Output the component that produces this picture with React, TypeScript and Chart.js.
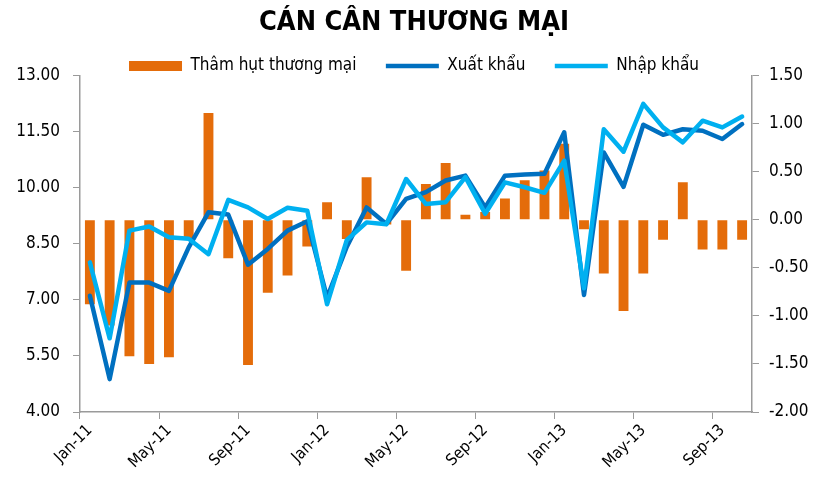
import React, { useEffect, useRef } from 'react';
import { Chart, registerables } from 'chart.js';

Chart.register(...registerables);

const months = [
  'Jan-11', 'Feb-11', 'Mar-11', 'Apr-11', 'May-11', 'Jun-11', 'Jul-11', 'Aug-11', 'Sep-11', 'Oct-11', 'Nov-11', 'Dec-11',
  'Jan-12', 'Feb-12', 'Mar-12', 'Apr-12', 'May-12', 'Jun-12', 'Jul-12', 'Aug-12', 'Sep-12', 'Oct-12', 'Nov-12', 'Dec-12',
  'Jan-13', 'Feb-13', 'Mar-13', 'Apr-13', 'May-13', 'Jun-13', 'Jul-13', 'Aug-13', 'Sep-13', 'Oct-13',
];
const shownMonths = ['Jan-11', 'May-11', 'Sep-11', 'Jan-12', 'May-12', 'Sep-12', 'Jan-13', 'May-13', 'Sep-13'];

// Thâm hụt thương mại (right axis, bn USD)
const deficit = [
  -0.88, -1.10, -1.42, -1.50, -1.43, -0.20, 1.11, -0.40, -1.51, -0.76, -0.58, -0.28,
  0.18, -0.20, 0.44, -0.05, -0.53, 0.37, 0.59, 0.05, 0.08, 0.22, 0.41, 0.51,
  0.79, -0.10, -0.56, -0.95, -0.56, -0.21, 0.39, -0.31, -0.31, -0.21,
];
// Xuất khẩu (left axis)
const exportsVals = [
  7.11, 4.88, 7.46, 7.46, 7.24, 8.40, 9.34, 9.28, 7.94, 8.36, 8.85, 9.10,
  7.06, 8.42, 9.47, 9.03, 9.70, 9.88, 10.19, 10.32, 9.47, 10.32, 10.35, 10.37,
  11.48, 7.13, 10.94, 10.02, 11.68, 11.41, 11.56, 11.52, 11.30, 11.70,
];
// Nhập khẩu (left axis)
const importsVals = [
  8.00, 5.97, 8.85, 8.96, 8.67, 8.63, 8.22, 9.67, 9.47, 9.16, 9.46, 9.38,
  6.88, 8.60, 9.07, 9.02, 10.23, 9.56, 9.61, 10.28, 9.30, 10.14, 10.01, 9.86,
  10.72, 7.31, 11.56, 10.96, 12.24, 11.61, 11.21, 11.79, 11.61, 11.90,
];

const leftMin = 4;
const leftMax = 13;
const leftStep = 1.5;
const rightMin = -2;
const rightMax = 1.5;
const rightStep = 0.5;

const FONT = "'DejaVu Sans Condensed', 'DejaVu Sans', sans-serif";
const AXIS = '#9a9a9a';
const ORANGE = '#E46C0A';
const DARK = '#0070C0';
const LIGHT = '#00B0F0';

const legendFitPatch = {
  id: 'legendFitPatch',
  beforeLayout(chart: any) {
    const lg = chart.legend;
    if (lg && !lg._patched) {
      const orig = lg.fit;
      lg.fit = function () {
        orig.call(this);
        this.height -= 9;
      };
      lg._patched = true;
    }
  },
};

export default function App() {
  const ref = useRef<HTMLCanvasElement | null>(null);

  useEffect(() => {
    if (!ref.current) return;
    const chart = new Chart(ref.current, {
      type: 'bar',
      data: {
        labels: months,
        datasets: [
          {
            type: 'bar',
            label: 'Thâm hụt thương mại',
            data: deficit,
            backgroundColor: ORANGE,
            borderWidth: 0,
            yAxisID: 'y1',
            barPercentage: 0.5,
            categoryPercentage: 1,
            order: 3,
          } as any,
          {
            type: 'line',
            label: 'Xuất khẩu',
            data: exportsVals,
            borderColor: DARK,
            backgroundColor: DARK,
            borderWidth: 4.5,
            pointRadius: 0,
            tension: 0,
            borderJoinStyle: 'round',
            borderCapStyle: 'round',
            yAxisID: 'y',
            order: 2,
          } as any,
          {
            type: 'line',
            label: 'Nhập khẩu',
            data: importsVals,
            borderColor: LIGHT,
            backgroundColor: LIGHT,
            borderWidth: 4.5,
            pointRadius: 0,
            tension: 0,
            borderJoinStyle: 'round',
            borderCapStyle: 'round',
            yAxisID: 'y',
            order: 1,
          } as any,
        ],
      },
      options: {
        animation: false,
        responsive: false,
        layout: { padding: { left: 10, right: 0, top: 0, bottom: 0 } },
        plugins: {
          tooltip: { enabled: false },
          title: {
            display: true,
            text: 'CÁN CÂN THƯƠNG MẠI',
            color: '#000',
            font: { family: FONT, size: 27, weight: 'bold' },
            padding: { top: 7, bottom: 8 },
          },
          legend: {
            display: true,
            position: 'top',
            labels: {
              color: '#000',
              font: { family: FONT, size: 17 },
              usePointStyle: true,
              pointStyleWidth: 53,
              boxHeight: 10,
              padding: 10,
              sort: (a: any, b: any) => a.datasetIndex - b.datasetIndex,
              generateLabels: (c: any) => {
                const items = (Chart as any).defaults.plugins.legend.labels.generateLabels(c);
                return items.map((it: any) => ({
                  ...it,
                  pointStyle: it.datasetIndex === 0 ? 'rect' : 'line',
                  text: it.datasetIndex < 2 ? it.text + '    ' : it.text,
                }));
              },
            },
          },
        },
        scales: {
          x: {
            offset: true,
            grid: {
              offset: true,
              drawOnChartArea: false,
              drawTicks: true,
              tickLength: 7,
              color: (ctx: any) =>
                ctx.index !== undefined && ctx.index % 4 === 0 ? AXIS : 'rgba(0,0,0,0)',
            },
            border: { display: true, color: AXIS, width: 1.5 },
            ticks: {
              autoSkip: false,
              minRotation: 45,
              maxRotation: 45,
              color: '#000',
              font: { family: FONT, size: 16 },
              padding: 2,
              callback: (_v: any, i: number) => (shownMonths.includes(months[i]) ? months[i] : ''),
            },
            afterFit: (s: any) => {
              s.height = 74;
            },
          },
          y: {
            position: 'left',
            min: leftMin,
            max: leftMax,
            grid: { drawOnChartArea: false, drawTicks: true, tickLength: 7, color: AXIS },
            border: { display: true, color: AXIS, width: 1.5 },
            ticks: {
              stepSize: leftStep,
              color: '#000',
              font: { family: FONT, size: 17 },
              padding: 13,
              callback: (v: any) => Number(v).toFixed(2),
            },
            afterFit: (s: any) => {
              s.width = 70;
            },
          },
          y1: {
            position: 'right',
            min: rightMin,
            max: rightMax,
            grid: { drawOnChartArea: false, drawTicks: true, tickLength: 7, color: AXIS },
            border: { display: true, color: AXIS, width: 1.5 },
            ticks: {
              stepSize: rightStep,
              color: '#000',
              font: { family: FONT, size: 17 },
              padding: 10,
              callback: (v: any) => Number(v).toFixed(2),
            },
            afterFit: (s: any) => {
              s.width = 66;
            },
          },
        },
      } as any,
      plugins: [legendFitPatch as any],
    });
    return () => chart.destroy();
  }, []);

  return (
    <div style={{ position: 'fixed', left: 0, top: 0, width: 818, height: 486, background: '#fff' }}>
      <canvas ref={ref} width={818} height={486} />
    </div>
  );
}
